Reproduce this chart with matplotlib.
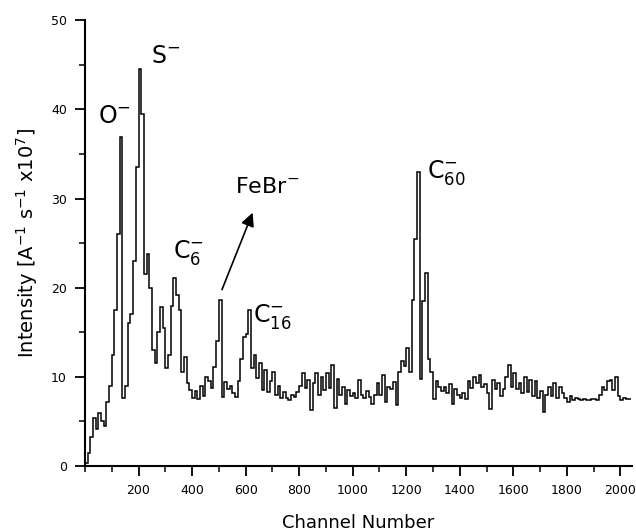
import numpy as np
import matplotlib
matplotlib.use("Agg")
import matplotlib.pyplot as plt
from matplotlib.ticker import MultipleLocator

plt.rcParams['font.family'] = ['DejaVu Sans']
plt.rcParams['mathtext.fontset'] = 'custom'
plt.rcParams['mathtext.rm'] = 'Liberation Sans'
plt.rcParams['mathtext.it'] = 'Liberation Sans:italic'
plt.rcParams['mathtext.bf'] = 'Liberation Sans:bold'
plt.rcParams['mathtext.default'] = 'regular'

# Spectrum, one value per 10-channel bin (channels 0 .. 2040)
channel_step = 10
intensity = [
    0.3, 1.5, 3.2, 5.4, 4.2, 5.9, 5.0, 4.5, 7.2, 9.0,
    12.5, 17.5, 26.0, 36.9, 7.6, 9.0, 16.0, 17.0, 23.0, 33.5,
    44.5, 39.5, 21.5, 23.8, 20.0, 13.0, 11.5, 15.0, 17.8, 15.5,
    11.0, 12.5, 18.0, 21.1, 19.2, 17.5, 10.5, 12.2, 9.3, 8.5,
    7.6, 8.4, 7.5, 9.0, 7.8, 10.0, 9.5, 8.8, 11.1, 14.0,
    18.6, 7.7, 9.4, 8.6, 9.0, 8.2, 7.7, 9.5, 12.0, 14.5,
    14.8, 17.5, 11.0, 12.4, 9.9, 11.5, 8.5, 10.8, 8.3, 9.5,
    10.6, 8.0, 9.0, 7.6, 8.3, 7.6, 7.4, 8.0, 7.7, 8.3,
    9.0, 10.4, 8.8, 9.7, 6.3, 9.3, 10.4, 8.0, 10.0, 8.5,
    10.4, 8.8, 11.3, 6.5, 9.8, 8.0, 8.9, 7.0, 8.5, 7.8,
    8.2, 7.6, 9.6, 8.0, 7.6, 8.4, 7.7, 7.0, 8.0, 9.3,
    8.0, 10.2, 7.2, 8.9, 8.6, 9.4, 6.8, 10.6, 11.8, 11.2,
    13.2, 10.5, 18.6, 25.5, 33.0, 9.8, 18.5, 21.6, 12.0, 10.5,
    7.5, 9.5, 8.9, 8.4, 8.9, 8.2, 9.2, 7.0, 8.6, 8.0,
    7.6, 8.2, 7.5, 9.5, 8.7, 10.0, 9.3, 10.2, 8.9, 9.2,
    8.2, 6.4, 9.6, 8.6, 9.3, 7.9, 8.6, 10.0, 11.3, 8.9,
    10.4, 8.6, 9.3, 8.2, 10.0, 8.3, 9.6, 7.8, 9.5, 7.6,
    8.4, 6.1, 8.0, 8.9, 7.8, 9.3, 7.6, 8.9, 8.2, 7.6,
    7.2, 7.8, 7.4, 7.6, 7.5, 7.4, 7.5, 7.4, 7.4, 7.5,
    7.5, 7.4, 8.0, 8.9, 8.5, 9.5, 9.6, 8.5, 10.0, 7.8,
    7.4, 7.6, 7.5, 7.5,
]
edges = np.arange(len(intensity) + 1) * channel_step

# Peak labels: (text, x, y baseline, fontsize)
peak_labels = [
    (r'O$^{-}$', 47, 38.5, 17),
    (r'S$^{-}$', 248, 45.2, 17),
    (r'C$_{6}^{-}$', 328, 23.3, 17),
    (r'FeBr$^{-}$', 562, 30.6, 16),
    (r'C$_{16}^{-}$', 629, 16.1, 17),
    (r'C$_{60}^{-}$', 1278, 32.3, 17),
]
arrow_tail = (508, 19.5)
arrow_head = (630, 28.7)

fig = plt.figure(figsize=(6.36, 5.32), dpi=100)
ax = fig.add_axes([0.1336, 0.124, 0.860, 0.838])

ax.stairs(intensity, edges, baseline=None, color='black', linewidth=1.1)

for txt, x, y, fs in peak_labels:
    ax.text(x, y, txt, fontsize=fs, ha='left', va='baseline', color='black')

ax.annotate('', xy=arrow_head, xytext=arrow_tail,
            arrowprops=dict(arrowstyle='-|>', color='black', lw=1.2,
                            mutation_scale=20))

ax.set_xlim(0, 2043)
ax.set_ylim(0, 50)
ax.xaxis.set_major_locator(MultipleLocator(200))
ax.xaxis.set_minor_locator(MultipleLocator(100))
ax.yaxis.set_major_locator(MultipleLocator(10))
ax.yaxis.set_minor_locator(MultipleLocator(5))
ax.set_xticks(np.arange(200, 2001, 200))

for side in ['top', 'right']:
    ax.spines[side].set_visible(False)
for side in ['left', 'bottom']:
    ax.spines[side].set_linewidth(1.5)

ax.tick_params(which='major', direction='out', length=7, width=1.3,
               labelsize=9, pad=6)
ax.tick_params(which='minor', direction='out', length=4, width=1.1)

ax.set_xlabel('Channel Number', fontsize=13, labelpad=12)
ax.set_ylabel(r'Intensity [A$^{-1}$ s$^{-1}$ x10$^{7}$]', fontsize=14, labelpad=8)

fig.savefig('out.png', dpi=100)
